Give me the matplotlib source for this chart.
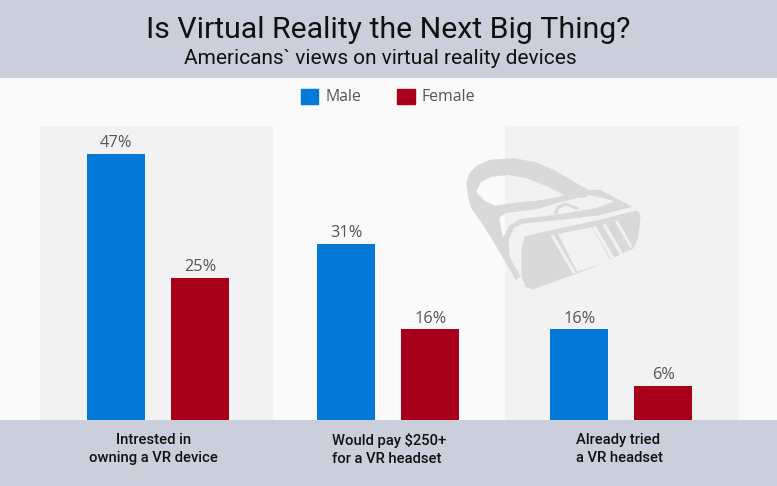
import numpy as np
import matplotlib
matplotlib.use("Agg")
import matplotlib.pyplot as plt
from matplotlib.patches import Patch, PathPatch, Rectangle
from matplotlib.path import Path

W, H = 777, 486

categories = ["Intrested in\nowning a VR device",
              "Would pay $250+\nfor a VR headset",
              "Already tried\na VR headset"]
male = [47, 31, 16]
female = [25, 16, 6]

group_x = np.array([158.2, 388.2, 621.2])
label_x = [153.5, 389, 619]
label_align = ["center", "left", "left"]

BLUE = "#0579D8"
RED = "#A8001A"
HEADER = "#CBCEDB"
BACK = "#FAFAFA"
BAND = "#F2F2F2"
ICON = "#D9D9D9"
TEXT_GRAY = "#555555"

plt.rcParams["font.family"] = ["Roboto", "DejaVu Sans"]

fig = plt.figure(figsize=(W / 100, H / 100), dpi=100, facecolor=BACK)

# header and footer strips, kept under the axes
fig.patches.append(Rectangle((0, 1 - 78 / H), 1, 78 / H, transform=fig.transFigure,
                             facecolor=HEADER, edgecolor="none", zorder=-2))
fig.patches.append(Rectangle((0, 0), 1, 66 / H, transform=fig.transFigure,
                             facecolor=HEADER, edgecolor="none", zorder=-2))

ax = fig.add_axes([40 / W, 66 / H, 699 / W, 294 / H])
ax.patch.set_alpha(0)
ax.set_xlim(40, 739)
ax.set_ylim(0, 294 / 5.67)
for spine in ax.spines.values():
    spine.set_visible(False)
ax.set_yticks([])

# shaded bands behind the first and last group
ax.axvspan(40, 273, color=BAND, lw=0, zorder=0)
ax.axvspan(505, 739, color=BAND, lw=0, zorder=0)

bars_m = ax.bar(group_x - 42, male, width=58.5, color=BLUE, zorder=3, label="Male")
bars_f = ax.bar(group_x + 42, female, width=58.5, color=RED, zorder=3, label="Female")
for bars in (bars_m, bars_f):
    ax.bar_label(bars, fmt="%d%%", padding=2, fontsize=11.8, color=TEXT_GRAY,
                 family=["Open Sans", "DejaVu Sans"])

ax.set_xticks(label_x)
ax.set_xticklabels(categories, fontsize=10.6, fontweight="medium", color="#111111",
                   linespacing=1.38)
ax.tick_params(axis="x", length=0, pad=9.5)
for lab, al in zip(ax.get_xticklabels(), label_align):
    lab.set_multialignment(al)

fig.text(388.5 / W, 1 - 30 / H, "Is Virtual Reality the Next Big Thing?", ha="center",
         va="center", fontsize=21.8, color="#111111")
fig.text(380.5 / W, 1 - 58 / H, "Americans` views on virtual reality devices", ha="center",
         va="center", fontsize=15, color="#111111")

handles = [Patch(facecolor=BLUE, edgecolor=BLUE, lw=1, joinstyle="round", label="Male"),
           Patch(facecolor=RED, edgecolor=RED, lw=1, joinstyle="round", label="Female")]
leg = fig.legend(handles=handles, loc="center", bbox_to_anchor=(388 / W, 1 - 97 / H),
                 ncol=2, frameon=False, handlelength=1.1, handleheight=1.1,
                 handletextpad=0.42, columnspacing=2.3, borderpad=0,
                 prop={"family": "Open Sans", "size": 11.4})
for t in leg.get_texts():
    t.set_color(TEXT_GRAY)

# headset icon, drawn in pixel space on a transparent overlay
over = fig.add_axes([0, 0, 1, 1], zorder=1)
over.patch.set_alpha(0)
over.set_xlim(0, W)
over.set_ylim(H, 0)
over.axis("off")


def icon_xy(pts):
    pts = np.array(pts, dtype=float)
    return pts / 3 + [440, 140]


def signed_area(xy):
    x, y = xy[:, 0], xy[:, 1]
    return np.sum(x * np.roll(y, -1) - np.roll(x, -1) * y)


def shape(outer, holes=(), color=ICON):
    verts, codes = [], []
    xy = icon_xy(outer)
    rings = [xy if signed_area(xy) > 0 else xy[::-1]]
    # holes only cut out when wound the other way round
    for ring in holes:
        xy = icon_xy(ring)
        rings.append(xy if signed_area(xy) < 0 else xy[::-1])
    for xy in rings:
        verts.extend(xy)
        verts.append(xy[0])
        codes.extend([Path.MOVETO] + [Path.LINETO] * (len(xy) - 1) + [Path.CLOSEPOLY])
    over.add_patch(PathPatch(Path(verts, codes), facecolor=color, edgecolor=color, lw=0.3))


# strap
shape([(80, 130), (88, 102), (110, 78), (150, 60), (220, 55), (290, 68), (350, 95), (400, 125),
       (445, 150), (440, 172), (380, 172), (300, 190), (215, 205), (178, 222), (165, 250), (170, 320),
       (130, 255), (95, 205), (85, 170)],
      holes=[[(108, 155), (122, 126), (155, 110), (205, 104), (260, 114), (320, 138), (380, 168),
              (300, 182), (230, 188), (165, 198), (132, 182)]])
# top of the housing
shape([(160, 225), (180, 205), (250, 190), (340, 175), (440, 150), (480, 150), (575, 200),
       (480, 225), (350, 240), (250, 250), (222, 262), (205, 300), (208, 350), (240, 410), (228, 420),
       (170, 320), (160, 270)],
      holes=[[(178, 232), (200, 218), (290, 207), (345, 190), (450, 164), (525, 183), (470, 205),
              (350, 225), (240, 238), (208, 258), (190, 295), (182, 265)]])
# front panel
shape([(255, 290), (330, 272), (480, 240), (590, 212), (601, 225), (595, 290), (580, 325),
       (450, 385), (280, 448), (258, 440), (245, 410), (245, 325)])
# lens stripes cut out of the front panel
for stripe in ([(355, 282), (455, 262), (510, 360), (412, 395)],
               [(333, 287), (341, 285), (407, 398), (399, 401)],
               [(458, 262), (467, 260), (525, 357), (516, 360)],
               [(488, 255), (497, 253), (552, 347), (544, 350)],
               [(525, 243), (532, 241), (577, 320), (571, 323)]):
    shape(stripe, color=BAND)
# slider on top of the housing
shape([(340, 222), (352, 198), (378, 188), (418, 205), (410, 208), (378, 196), (357, 205), (350, 224)])

fig.savefig("out.png", dpi=100, facecolor=fig.get_facecolor())
